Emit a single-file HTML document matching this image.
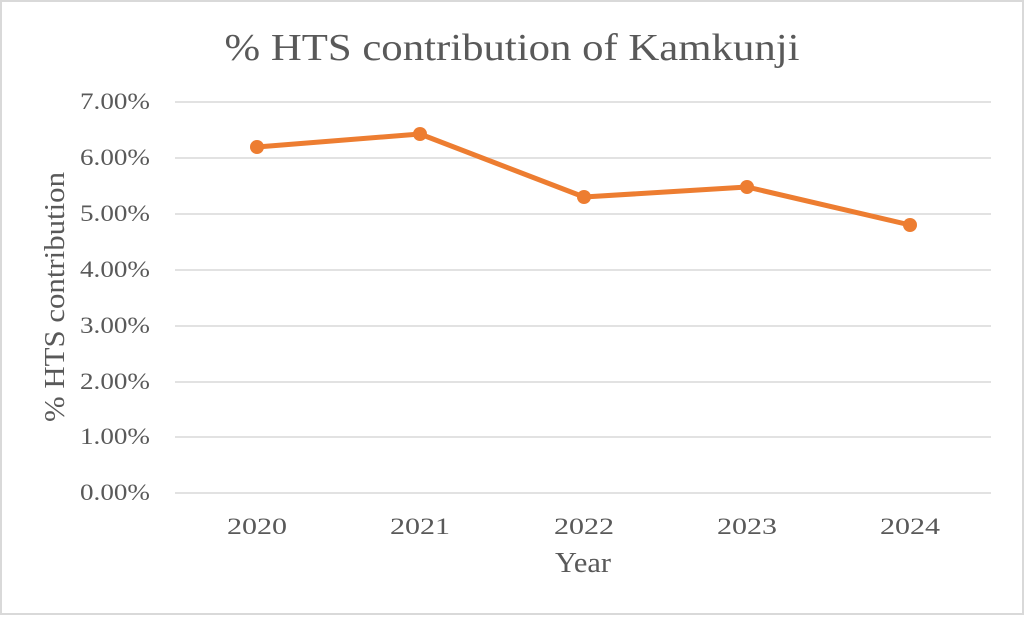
<!DOCTYPE html>
<html><head><style>
html,body{margin:0;padding:0;background:#fff;}
</style></head><body>
<svg width="1024" height="615" viewBox="0 0 1024 615" xmlns="http://www.w3.org/2000/svg" font-family="'Liberation Serif', serif">
<rect x="1" y="1" width="1022" height="613" fill="#fff" stroke="#d9d9d9" stroke-width="2"/>
<text x="512" y="60" text-anchor="middle" font-size="38" fill="#595959" textLength="575" lengthAdjust="spacingAndGlyphs">% HTS contribution of Kamkunji</text>
<g stroke="#d9d9d9" stroke-width="1.5">
<line x1="175" x2="991" y1="102" y2="102"/>
<line x1="175" x2="991" y1="158" y2="158"/>
<line x1="175" x2="991" y1="214" y2="214"/>
<line x1="175" x2="991" y1="270" y2="270"/>
<line x1="175" x2="991" y1="326" y2="326"/>
<line x1="175" x2="991" y1="382" y2="382"/>
<line x1="175" x2="991" y1="437" y2="437"/>
<line x1="175" x2="991" y1="493" y2="493"/>
</g>
<g font-size="23" fill="#595959">
<text x="80" y="109" textLength="70" lengthAdjust="spacingAndGlyphs">7.00%</text>
<text x="80" y="165" textLength="70" lengthAdjust="spacingAndGlyphs">6.00%</text>
<text x="80" y="221" textLength="70" lengthAdjust="spacingAndGlyphs">5.00%</text>
<text x="80" y="277" textLength="70" lengthAdjust="spacingAndGlyphs">4.00%</text>
<text x="80" y="333" textLength="70" lengthAdjust="spacingAndGlyphs">3.00%</text>
<text x="80" y="389" textLength="70" lengthAdjust="spacingAndGlyphs">2.00%</text>
<text x="80" y="444" textLength="70" lengthAdjust="spacingAndGlyphs">1.00%</text>
<text x="80" y="500" textLength="70" lengthAdjust="spacingAndGlyphs">0.00%</text>
</g>
<g font-size="23" fill="#595959" text-anchor="middle">
<text x="257" y="534" textLength="60" lengthAdjust="spacingAndGlyphs">2020</text>
<text x="420" y="534" textLength="60" lengthAdjust="spacingAndGlyphs">2021</text>
<text x="584" y="534" textLength="60" lengthAdjust="spacingAndGlyphs">2022</text>
<text x="747" y="534" textLength="60" lengthAdjust="spacingAndGlyphs">2023</text>
<text x="910" y="534" textLength="60" lengthAdjust="spacingAndGlyphs">2024</text>
</g>
<text x="583" y="572" text-anchor="middle" font-size="28" fill="#595959" textLength="56" lengthAdjust="spacingAndGlyphs">Year</text>
<text transform="translate(64,297) rotate(-90)" text-anchor="middle" font-size="28" fill="#595959" textLength="250" lengthAdjust="spacingAndGlyphs">% HTS contribution</text>
<polyline points="257,147 420,134 584,197 747,187 910,225" fill="none" stroke="#ed7d31" stroke-width="5" stroke-linejoin="round" stroke-linecap="round"/>
<g fill="#ed7d31">
<circle cx="257" cy="147" r="7"/><circle cx="420" cy="134" r="7"/><circle cx="584" cy="197" r="7"/><circle cx="747" cy="187" r="7"/><circle cx="910" cy="225" r="7"/>
</g>
</svg>
</body></html>
